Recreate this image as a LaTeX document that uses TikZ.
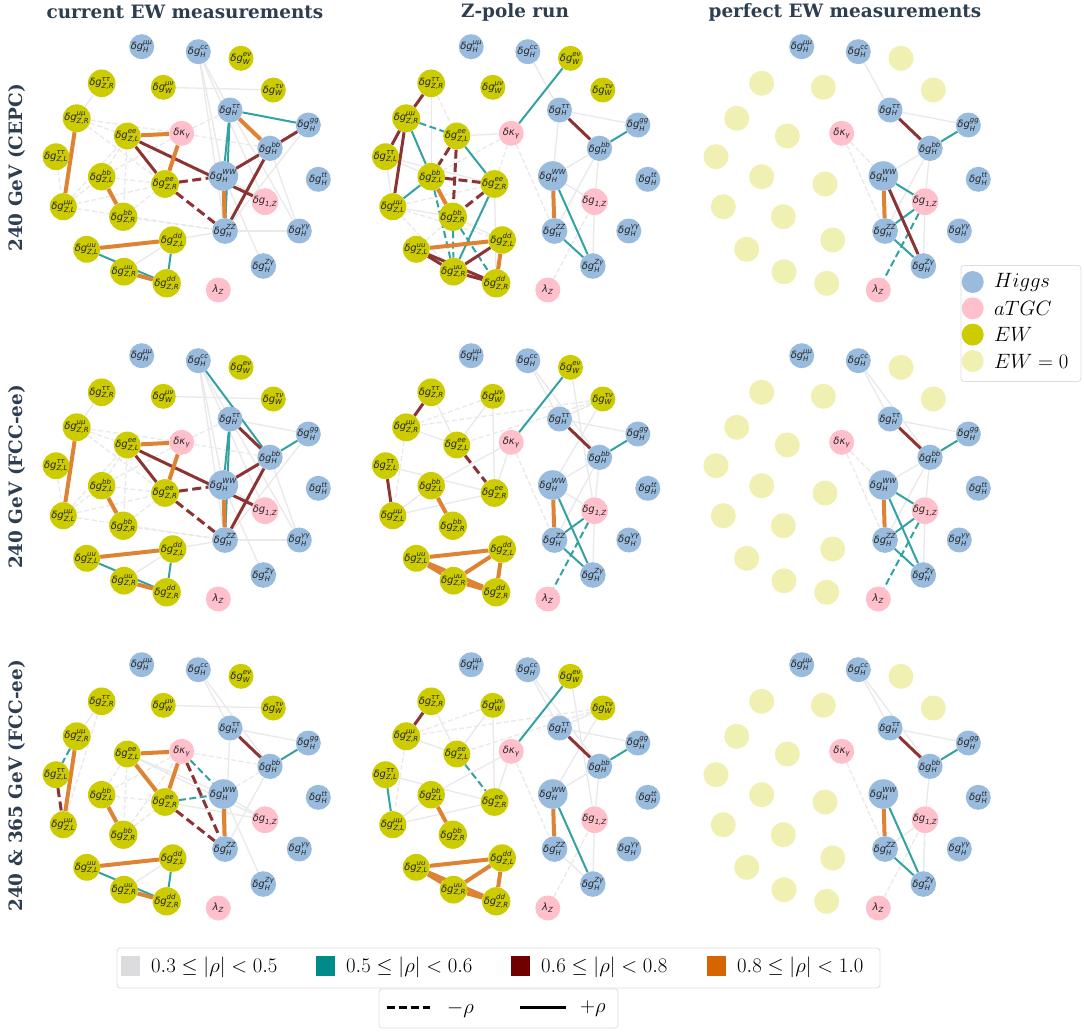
\documentclass[tikz,border=0pt]{standalone}
\usepackage{amsmath}
\usepackage{fontspec}
\newfontfamily\lblfont{DejaVu Sans}
\newfontfamily\titlefont{DejaVu Serif}
\usetikzlibrary{backgrounds}
\definecolor{chig}{RGB}{153,187,221}
\definecolor{catgc}{RGB}{255,192,203}
\definecolor{cew}{RGB}{204,204,0}
\definecolor{cewz}{RGB}{240,240,178}
\definecolor{cgrey}{RGB}{233,233,235}
\definecolor{cteal}{RGB}{51,162,162}
\definecolor{cred}{RGB}{140,51,51}
\definecolor{corange}{RGB}{222,131,51}
\definecolor{sgrey}{RGB}{220,220,222}
\definecolor{steal}{RGB}{0,139,139}
\definecolor{sred}{RGB}{112,0,0}
\definecolor{sorange}{RGB}{214,100,0}
\definecolor{ctitle}{RGB}{44,62,80}
\definecolor{cbox}{RGB}{222,222,222}
\newcommand\lb[2]{$\text{\itshape δg}^{\text{\itshape #2}}_{\text{\itshape #1}}$}
\newcommand\ewt[1]{#1}
\tikzset{
 nd/.style={circle,minimum size=25pt,inner sep=0pt,font=\lblfont\fontsize{10}{10}\selectfont,text=black!85},
 hig/.style={nd,fill=chig},
 tgc/.style={nd,fill=catgc},
 ew/.style={nd,fill=cew},
 ewz/.style={nd,fill=cewz},
 eG/.style={draw=cgrey,line width=1.3pt},
 eGd/.style={eG,dash pattern=on 5pt off 2.5pt},
 eT/.style={draw=cteal,line width=2pt},
 eTd/.style={eT,dash pattern=on 7pt off 3.5pt},
 eR/.style={draw=cred,line width=3pt},
 eRd/.style={eR,dash pattern=on 9pt off 4.5pt},
 eO/.style={draw=corange,line width=4pt},
 ttl/.style={font=\titlefont\bfseries\fontsize{18.4}{18.4}\selectfont,text=ctitle},
 legbox/.style={draw=cbox,line width=0.8pt,rounded corners=3pt,inner sep=0pt},
 legtxt/.style={anchor=west,inner sep=0pt,font=\fontsize{20}{20}\selectfont},
 legsw/.style={minimum width=19pt,minimum height=20pt,inner sep=0pt},
}
\newcommand\mkpanel[4]{%
\begin{scope}[shift={(#2,#3)}]
\node[hig] (#1Hmm) at (141.7,46.7) {\lb{H}{μμ}};
\node[hig] (#1Hcc) at (198.3,51.7) {\lb{H}{cc}};
\node[#4] (#1Wev) at (241,58.3) {\ewt{\lb{W}{eν}}};
\node[#4] (#1ZRtt) at (101.7,83.3) {\ewt{\lb{Z,R}{ττ}}};
\node[#4] (#1Wmv) at (163.3,87.3) {\ewt{\lb{W}{μν}}};
\node[#4] (#1Wtv) at (273.3,90) {\ewt{\lb{W}{τν}}};
\node[hig] (#1Htau) at (230,110) {\lb{H}{ττ}};
\node[hig] (#1Hgg) at (308.3,125) {\lb{H}{gg}};
\node[#4] (#1ZRmm) at (76.7,118.3) {\ewt{\lb{Z,R}{μμ}}};
\node[#4] (#1ZLee) at (127.3,136) {\ewt{\lb{Z,L}{ee}}};
\node[tgc] (#1kg) at (181.7,133.3) {$\text{\itshape δκ}_{\text{\itshape γ}}$};
\node[hig] (#1Hbb) at (270,148.3) {\lb{H}{bb}};
\node[#4] (#1ZLtt) at (56,156.7) {\ewt{\lb{Z,L}{ττ}}};
\node[#4] (#1ZLbb) at (101.7,176.7) {\ewt{\lb{Z,L}{bb}}};
\node[#4] (#1ZRee) at (165,184) {\ewt{\lb{Z,R}{ee}}};
\node[hig] (#1HWW) at (223.3,176) {\lb{H}{WW}};
\node[hig] (#1Htop) at (318.3,179.3) {\lb{H}{tt}};
\node[tgc] (#1g1Z) at (265,201.7) {$\text{\itshape δg}_{\text{\itshape 1,Z}}$};
\node[#4] (#1ZLmm) at (63.3,206.7) {\ewt{\lb{Z,L}{μμ}}};
\node[#4] (#1ZRbb) at (123.3,216.7) {\ewt{\lb{Z,R}{bb}}};
\node[hig] (#1HZZ) at (225,231) {\lb{H}{ZZ}};
\node[hig] (#1Hyy) at (299.3,231) {\lb{H}{γγ}};
\node[#4] (#1ZLuu) at (86.7,249.3) {\ewt{\lb{Z,L}{uu}}};
\node[#4] (#1ZLdd) at (172.7,240) {\ewt{\lb{Z,L}{dd}}};
\node[#4] (#1ZRuu) at (124,271.7) {\ewt{\lb{Z,R}{uu}}};
\node[#4] (#1ZRdd) at (166.7,283.3) {\ewt{\lb{Z,R}{dd}}};
\node[hig] (#1HZy) at (263.3,266) {\lb{H}{Zγ}};
\node[tgc] (#1lZ) at (218.3,290) {$\text{\itshape λ}_{\text{\itshape Z}}$};
\end{scope}}
\newcommand\edges[2]{\begin{scope}[on background layer]\foreach \s/\p/\q in {#2} {\draw[\s] (#1\p) -- (#1\q);}\end{scope}}
\begin{document}
\begin{tikzpicture}[x=1pt,y=-1pt]
\useasboundingbox (0,0) rectangle (1084,1034);
\begin{scope}[on background layer]
\fill[white] (0,0) rectangle (1084,1034);
\end{scope}
% titles
\node[ttl] (t1) at (185,12) {current EW measurements};
\node[ttl] (t2) at (515,12) {Z-pole run};
\node[ttl] (t3) at (845,12) {perfect EW measurements};
\node[ttl,rotate=90] (r1) at (17,168) {240 GeV (CEPC)};
\node[ttl,rotate=90] (r2) at (17,477) {240 GeV (FCC-ee)};
\node[ttl,rotate=90] (r3) at (17,786) {240 \& 365 GeV (FCC-ee)};
% panels
\mkpanel{A}{0}{0}{ew}
\mkpanel{B}{0}{309}{ew}
\mkpanel{C}{0}{618}{ew}
\mkpanel{D}{329.5}{0}{ew}
\mkpanel{E}{329.5}{309}{ew}
\mkpanel{F}{329.5}{618}{ew}
\renewcommand\ewt[1]{}
\mkpanel{G}{660}{0}{ewz}
\mkpanel{H}{660}{309}{ewz}
\mkpanel{I}{660}{618}{ewz}
% edges
\edges{A}{eG/ZRtt/ZRmm, eG/Wmv/Wtv, eG/Hcc/Htau, eG/Hcc/HWW, eG/Hcc/HZZ, eG/Hcc/g1Z, eG/HZZ/Hyy, eG/HWW/HZy, eG/Hbb/Hyy, eG/Hgg/HZZ, eG/Htau/Hyy, eG/ZRuu/ZLdd, eG/ZLdd/HZZ, eG/HWW/g1Z,
 eGd/kg/Hbb, eGd/kg/Htau, eGd/ZRmm/ZLee, eGd/ZRmm/ZRee, eGd/ZRmm/kg, eGd/ZLtt/ZLmm, eGd/ZLmm/ZRee, eGd/ZLmm/HZZ, eGd/ZLmm/ZLbb, eGd/ZLbb/ZRee, eGd/ZLbb/ZLee, eGd/ZLee/ZRbb, eGd/ZRbb/HZZ, eGd/ZLbb/kg, eGd/ZRbb/ZRee, eGd/ZLmm/ZLee,
 eT/Htau/Hgg, eT/Htau/HZZ, eT/Htau/HWW, eT/ZLuu/ZRdd, eT/ZLdd/ZRdd,
 eR/ZLee/ZRee, eR/ZLee/g1Z, eR/HWW/Hbb, eR/HZZ/Hbb, eR/Hbb/Hgg,
 eRd/ZRee/HWW, eRd/ZRee/HZZ,
 eO/ZLee/kg, eO/kg/ZRee, eO/Htau/Hbb, eO/HWW/HZZ, eO/ZRmm/ZLmm, eO/ZLbb/ZRbb, eO/ZLuu/ZLdd, eO/ZRuu/ZRdd}
\edges{B}{eG/ZRtt/ZRmm, eG/Wmv/Wtv, eG/Hcc/Htau, eG/Hcc/HWW, eG/Hcc/HZZ, eG/Hcc/g1Z, eG/HZZ/Hyy, eG/HWW/HZy, eG/Hbb/Hyy, eG/Hgg/HZZ, eG/Htau/Hyy, eG/ZRuu/ZLdd, eG/ZLdd/HZZ, eG/HWW/g1Z, eG/Htau/Hgg,
 eGd/kg/Hbb, eGd/kg/Htau, eGd/ZRmm/ZLee, eGd/ZRmm/ZRee, eGd/ZRmm/kg, eGd/ZLtt/ZLmm, eGd/ZLmm/ZRee, eGd/ZLmm/HZZ, eGd/ZLmm/ZLbb, eGd/ZLbb/ZRee, eGd/ZLbb/ZLee, eGd/ZLee/ZRbb, eGd/ZRbb/HZZ, eGd/ZLbb/kg, eGd/ZRbb/ZRee, eGd/ZLmm/ZLee,
 eT/Hbb/Hgg, eT/Hcc/Hbb, eT/Htau/HZZ, eT/Htau/HWW, eT/ZLuu/ZRdd, eT/ZLdd/ZRdd,
 eR/Htau/Hbb, eR/ZLee/ZRee, eR/ZLee/g1Z, eR/HWW/Hbb, eR/HZZ/Hbb,
 eRd/ZRee/HWW, eRd/ZRee/HZZ,
 eO/ZLee/kg, eO/kg/ZRee, eO/HWW/HZZ, eO/ZRmm/ZLmm, eO/ZLbb/ZRbb, eO/ZLuu/ZLdd, eO/ZRuu/ZRdd}
\edges{C}{eG/Hcc/Htau, eG/Hcc/Hbb, eG/Wmv/Wtv, eG/Htau/Hgg, eG/Htau/HZZ, eG/Hbb/HZZ, eG/HWW/g1Z, eG/HWW/HZy, eG/ZLee/HWW, eG/ZRee/g1Z, eG/ZRtt/ZRmm, eG/ZRuu/ZLdd, eG/ZLee/g1Z,
 eGd/ZRtt/ZLmm, eGd/kg/Hbb, eGd/HWW/Hbb, eGd/ZLee/ZLbb, eGd/ZLee/ZRbb, eGd/ZLbb/kg, eGd/ZLbb/ZRee, eGd/ZRbb/kg, eGd/ZRbb/ZRee,
 eT/Hbb/Hgg, eT/ZLuu/ZRdd, eT/ZLdd/ZRdd,
 eTd/kg/HWW, eTd/ZRee/HWW, eTd/ZRmm/ZLtt,
 eR/Htau/Hbb,
 eRd/kg/HZZ, eRd/ZRee/HZZ, eRd/ZLtt/ZLmm,
 eO/ZLee/kg, eO/ZLee/ZRee, eO/kg/ZRee, eO/HWW/HZZ, eO/ZRmm/ZLmm, eO/ZLbb/ZRbb, eO/ZLuu/ZLdd, eO/ZRuu/ZRdd}
\edges{D}{eG/Hcc/Htau, eG/Htau/Hgg, eG/Htau/HWW, eG/Hbb/HWW, eG/Hbb/HZZ, eG/Hbb/g1Z, eG/HWW/g1Z, eG/g1Z/HZy, eG/kg/ZLee, eG/ZRtt/ZLbb, eG/ZLtt/ZLmm, eG/ZLtt/ZRee, eG/ZRee/ZRdd, eG/ZLmm/ZRbb, eG/ZLdd/ZRbb, eG/ZLtt/ZLbb,
 eGd/kg/HZZ, eGd/kg/ZRee, eGd/lZ/g1Z, eGd/kg/ZLbb, eGd/ZRtt/ZLee, eGd/ZLmm/ZRee, eGd/ZLmm/ZRuu, eGd/ZLmm/ZLdd, eGd/ZLuu/ZRbb,
 eT/ZRmm/ZLbb, eT/ZLee/ZRee, eT/ZLbb/ZLmm, eT/ZRee/ZRuu, eT/kg/Wev, eT/Hbb/Hgg, eT/HWW/HZy, eT/HZZ/HZy,
 eTd/ZRmm/ZLee, eTd/ZLbb/ZRuu, eTd/ZRbb/ZRuu, eTd/ZRbb/ZRdd,
 eR/ZRtt/ZRmm, eR/ZRmm/ZLmm, eR/ZRmm/ZLtt, eR/ZLuu/ZRuu, eR/ZLuu/ZRdd, eR/ZRuu/ZRdd, eR/ZRuu/ZLdd, eR/Htau/Hbb,
 eRd/ZLee/ZLbb, eRd/ZLee/ZRbb, eRd/ZLbb/ZRee, eRd/ZRee/ZRbb,
 eO/ZLbb/ZRbb, eO/ZLuu/ZLdd, eO/ZLdd/ZRdd, eO/HWW/HZZ}
\edges{E}{eG/Hcc/Htau, eG/Hcc/Hbb, eG/Wev/g1Z, eG/Wtv/HWW, eG/Wtv/Htau, eG/Htau/Hgg, eG/Hbb/HWW, eG/Hbb/HZZ, eG/Hbb/g1Z, eG/HWW/g1Z, eG/g1Z/HZy, eG/ZRtt/ZLee, eG/ZRmm/ZLee, eG/ZLee/Wmv, eG/ZRee/Wmv, eG/ZLtt/ZRee, eG/ZLmm/ZRee, eG/ZLmm/ZLbb, eG/ZLbb/kg, eG/ZRee/kg,
 eGd/Wtv/ZRmm, eGd/Wtv/ZLee, eGd/Wmv/ZRmm, eGd/ZRmm/ZLmm, eGd/kg/HZZ,
 eT/kg/Wev, eT/Hbb/Hgg, eT/HWW/HZy, eT/HZZ/HZy, eT/HZZ/g1Z,
 eTd/g1Z/lZ,
 eR/ZRtt/ZRmm, eR/ZLtt/ZLmm, eR/Htau/Hbb,
 eRd/ZLee/ZRee,
 eO/ZLbb/ZRbb, eO/ZLuu/ZLdd, eO/ZLuu/ZRuu, eO/ZLuu/ZRdd, eO/ZRuu/ZLdd, eO/ZRuu/ZRdd, eO/ZLdd/ZRdd, eO/HWW/HZZ}
\edges{F}{eG/Hcc/Htau, eG/Hcc/Hbb, eG/Wev/g1Z, eG/Wtv/HWW, eG/Wtv/Htau, eG/Htau/Hgg, eG/Hbb/HWW, eG/Hbb/g1Z, eG/g1Z/HZy, eG/HZZ/HZy, eG/ZRtt/ZLee, eG/ZRmm/ZLee, eG/ZLee/Wmv, eG/ZRee/Wmv, eG/ZLtt/ZRee, eG/ZLmm/ZRee, eG/ZLmm/ZLbb, eG/ZLbb/kg, eG/ZRee/kg,
 eGd/Wtv/ZRmm, eGd/Wtv/ZLee, eGd/Wmv/ZRmm, eGd/ZRmm/ZLmm, eGd/kg/HZZ, eGd/lZ/g1Z,
 eT/ZLtt/ZLmm, eT/kg/Wev, eT/Hbb/Hgg, eT/HWW/HZy,
 eTd/ZLee/ZRee,
 eR/ZRtt/ZRmm, eR/Htau/Hbb,
 eO/ZLbb/ZRbb, eO/ZLuu/ZLdd, eO/ZLuu/ZRuu, eO/ZLuu/ZRdd, eO/ZRuu/ZLdd, eO/ZRuu/ZRdd, eO/ZLdd/ZRdd, eO/HWW/HZZ}
\edges{G}{eG/Hcc/Htau, eG/Htau/Hgg, eG/Hbb/HWW, eG/Hbb/HZZ, eG/Hbb/g1Z, eG/g1Z/HZy,
 eGd/kg/HWW, eGd/kg/HZZ,
 eT/Hbb/Hgg, eT/HWW/g1Z, eT/HZZ/g1Z, eT/HZZ/HZy, eTd/g1Z/lZ,
 eR/Htau/Hbb, eR/HWW/HZy, eO/HWW/HZZ}
\edges{H}{eG/Hcc/Htau, eG/Hcc/Hbb, eG/Htau/Hgg, eG/Hbb/HWW, eG/Hbb/HZZ, eG/Hbb/g1Z, eG/g1Z/HZy,
 eGd/kg/HWW, eGd/kg/HZZ,
 eT/Hbb/Hgg, eT/HWW/g1Z, eT/HWW/HZy, eT/HZZ/g1Z, eT/HZZ/HZy, eTd/g1Z/lZ,
 eR/Htau/Hbb, eO/HWW/HZZ}
\edges{I}{eG/Hcc/Htau, eG/Hcc/Hbb, eG/Htau/Hgg, eG/Hbb/g1Z, eG/g1Z/HZZ, eG/g1Z/HZy,
 eGd/kg/HZZ, eGd/lZ/g1Z, eGd/g1Z/HZy,
 eT/Hbb/Hgg, eT/HWW/HZy, eT/HZZ/HZy,
 eR/Htau/Hbb, eO/HWW/HZZ}
% right legend
\node[legbox,anchor=north west,minimum width=120pt,minimum height=116pt] (legR) at (960.5,265) {};
\node[circle,fill=chig,minimum size=22pt,inner sep=0pt] (lc1) at (972.7,282) {};
\node[circle,fill=catgc,minimum size=22pt,inner sep=0pt] (lc2) at (972.7,308.3) {};
\node[circle,fill=cew,minimum size=22pt,inner sep=0pt] (lc3) at (972.7,334.6) {};
\node[circle,fill=cewz,minimum size=22pt,inner sep=0pt] (lc4) at (972.7,361) {};
\node[legtxt,font=\fontsize{22}{22}\selectfont] (lt1) at (994,282) {$Higgs$};
\node[legtxt,font=\fontsize{22}{22}\selectfont] (lt2) at (994,308.3) {$aTGC$};
\node[legtxt,font=\fontsize{22}{22}\selectfont] (lt3) at (994,334.6) {$EW$};
\node[legtxt,font=\fontsize{22}{22}\selectfont] (lt4) at (994,361) {$EW=0$};
% bottom legend
\node[legbox,minimum width=763pt,minimum height=40pt] (legB) at (498.5,968) {};
\node[legsw,fill=sgrey] (s1) at (130,966) {};
\node[legsw,fill=steal] (s2) at (325.5,966) {};
\node[legsw,fill=sred] (s3) at (520.5,966) {};
\node[legsw,fill=sorange] (s4) at (716,966) {};
\node[legtxt] (st1) at (151,967) {$0.3\leq|\rho|<0.5$};
\node[legtxt] (st2) at (346,967) {$0.5\leq|\rho|<0.6$};
\node[legtxt] (st3) at (541,967) {$0.6\leq|\rho|<0.8$};
\node[legtxt] (st4) at (737,967) {$0.8\leq|\rho|<1.0$};
\node[legbox,minimum width=239pt,minimum height=39pt] (legS) at (498.5,1008.5) {};
\coordinate (d1) at (387,1007);
\coordinate (d2) at (430,1007);
\coordinate (p1) at (520,1007);
\coordinate (p2) at (566,1007);
\draw[line width=3pt,dash pattern=on 8pt off 4pt] (d1) -- (d2);
\draw[line width=3pt] (p1) -- (p2);
\node[legtxt] (nt) at (447,1009) {$-\rho$};
\node[legtxt] (pt) at (580,1009) {$+\rho$};
\end{tikzpicture}
\end{document}
